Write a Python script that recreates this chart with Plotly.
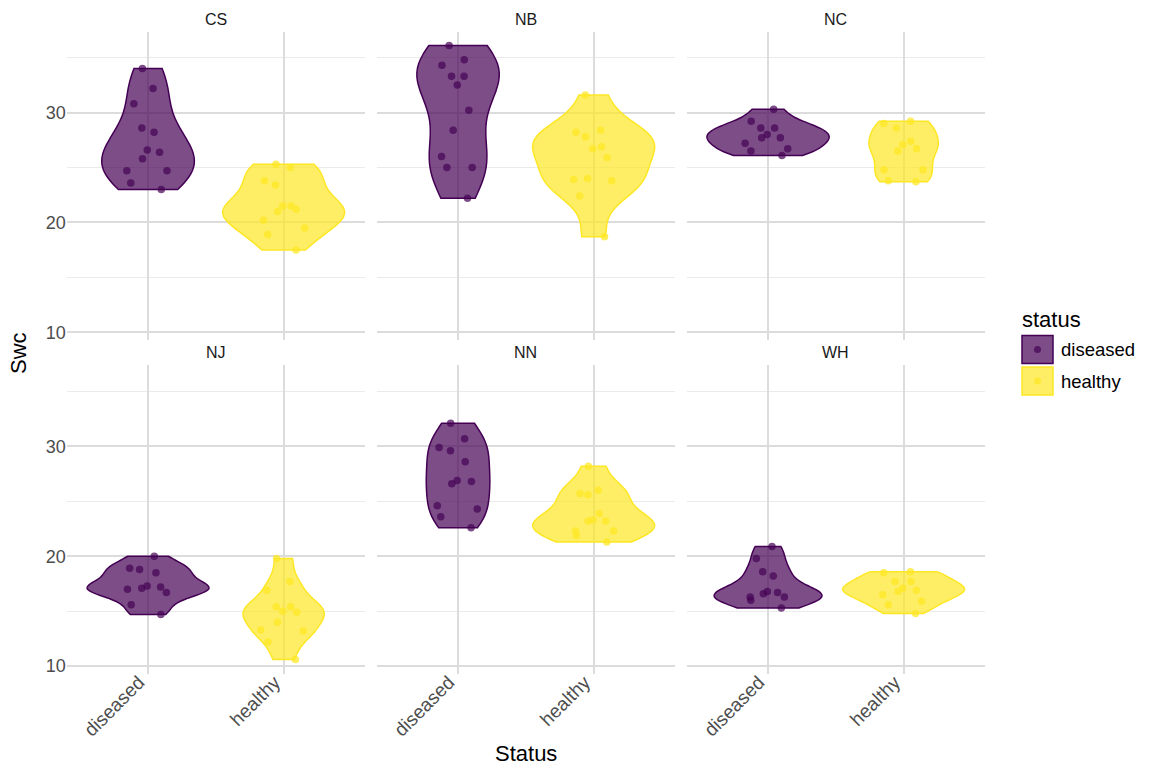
import numpy as np
import plotly.graph_objects as go

W, H = 1150, 770

sites = ["CS", "NB", "NC", "NJ", "NN", "WH"]
statuses = ["diseased", "healthy"]

cs_d = [34.0, 32.2, 30.8, 28.2, 28.6, 26.4, 25.8, 26.6, 24.7, 24.7, 23.6, 23.0]
cs_h = [25.3, 25.0, 23.8, 23.4, 21.5, 21.5, 21.2, 21.0, 20.2, 19.5, 18.9, 17.5]
nb_d = [36.1, 34.8, 34.3, 33.3, 33.3, 32.5, 30.2, 28.4, 26.0, 25.0, 25.0, 22.2]
nb_h = [31.6, 28.4, 28.2, 27.8, 26.9, 26.7, 25.9, 23.8, 24.0, 23.9, 22.4, 18.7]
nc_d = [30.3, 29.2, 28.6, 28.6, 28.0, 27.7, 27.7, 27.2, 26.7, 26.5, 26.1]
nc_h = [28.6, 29.0, 29.2, 27.4, 27.1, 26.5, 26.7, 24.8, 24.8, 23.8, 23.7]
nj_d = [20.0, 18.8, 18.5, 18.9, 17.3, 17.0, 16.7, 17.1, 17.2, 15.6, 14.7]
nj_h = [19.8, 17.7, 16.9, 15.4, 15.4, 14.9, 15.0, 14.0, 13.2, 13.3, 12.2, 10.6]
nn_d = [32.1, 30.7, 29.6, 29.9, 28.6, 26.6, 26.8, 26.9, 24.6, 24.3, 23.6, 22.6]
nn_h = [28.2, 25.6, 26.0, 25.7, 23.9, 23.3, 23.2, 23.2, 22.3, 21.9, 22.3, 21.3]
wh_d = [20.9, 19.8, 18.2, 18.6, 16.7, 16.6, 16.3, 16.3, 16.0, 16.8, 15.3]
wh_h = [18.6, 18.5, 17.7, 17.7, 17.1, 16.5, 16.8, 16.9, 15.9, 15.6, 14.8]

swc = {
    "CS": [cs_d, cs_h], "NB": [nb_d, nb_h], "NC": [nc_d, nc_h],
    "NJ": [nj_d, nj_h], "NN": [nn_d, nn_h], "WH": [wh_d, wh_h],
}

y_ticks = [10, 20, 30]
y_minor = [15, 25, 35]

line_cols = ["#440154", "#FDE725"]
fill_cols = ["rgba(68,1,84,0.7)", "rgba(253,231,37,0.7)"]
pt_cols = ["rgba(68,1,84,0.7)", "rgba(253,231,37,0.75)"]

FONT = "Liberation Sans, Arial, sans-serif"


def nrd0(v):
    v = np.asarray(v, float)
    sd = np.std(v, ddof=1)
    q75, q25 = np.percentile(v, [75, 25])
    lo = min(sd, (q75 - q25) / 1.34)
    if lo <= 0:
        lo = sd if sd > 0 else 1.0
    return 0.9 * lo * len(v) ** -0.2


def max_density(v, bw):
    v = np.asarray(v, float)
    grid = np.linspace(v.min(), v.max(), 512)
    u = (grid[:, None] - v[None, :]) / bw
    d = np.exp(-0.5 * u ** 2).sum(axis=1) / (len(v) * bw * np.sqrt(2 * np.pi))
    return d.max()


# panel geometry in pixels
px_left = [66.7, 376.7, 686.7]
px_w = 298.3
py_top = [31.5, 365.3]
py_h = 308.3

allv = np.concatenate([np.asarray(a, float) for s in sites for a in swc[s]])
ymin, ymax = allv.min(), allv.max()
pad = 0.05 * (ymax - ymin)
yrange = [ymin - pad, ymax + pad]

fig = go.Figure()
layout = {}
annotations = []
shapes = []

for i, site in enumerate(sites):
    r, c = divmod(i, 3)
    ax = "" if i == 0 else str(i + 1)
    groups = swc[site]
    bws = [nrd0(g) for g in groups]
    mds = [max_density(g, b) for g, b in zip(groups, bws)]
    mmax = max(mds)
    for k, (g, bw, md) in enumerate(zip(groups, bws, mds)):
        w = 0.9 * md / mmax
        fig.add_trace(go.Violin(
            x=[statuses[k]] * len(g), y=g,
            xaxis="x" + ax, yaxis="y" + ax,
            width=w, scalemode="width", spanmode="hard", bandwidth=bw,
            fillcolor=fill_cols[k], line=dict(color=line_cols[k], width=1.5),
            points="all", pointpos=0, jitter=min(1.0, 0.4 / w),
            marker=dict(color=pt_cols[k], size=7.5, line=dict(width=0)),
            showlegend=False, hoverinfo="y", name=statuses[k],
        ))
    x0 = px_left[c] / W
    x1 = (px_left[c] + px_w) / W
    y1 = 1 - py_top[r] / H
    y0 = 1 - (py_top[r] + py_h) / H
    layout["xaxis" + ax] = dict(
        domain=[x0, x1], anchor="y" + ax, type="category",
        categoryorder="array", categoryarray=statuses,
        range=[-0.6, 1.6], showgrid=True, gridcolor="#dcdcdc", gridwidth=1.5,
        zeroline=False, showline=False, ticks="", automargin=False,
        showticklabels=(r == 1), tickangle=-45,
        ticklabelshift=-9, ticklabelstandoff=-7,
        tickfont=dict(family=FONT, size=19, color="#4d4d4d"),
    )
    layout["yaxis" + ax] = dict(
        domain=[y0, y1], anchor="x" + ax, range=yrange,
        tickvals=y_ticks, showgrid=True, gridcolor="#dcdcdc", gridwidth=1.5,
        minor=dict(tickvals=y_minor, showgrid=True, gridcolor="#ebebeb", gridwidth=1),
        zeroline=False, showline=False, ticks="", automargin=False,
        showticklabels=(c == 0),
        tickfont=dict(family=FONT, size=18, color="#4d4d4d"),
    )
    annotations.append(dict(
        text=site, xref="paper", yref="paper",
        x=(x0 + x1) / 2, y=1 - (19.5 if r == 0 else 352.5) / H,
        xanchor="center", yanchor="middle", showarrow=False,
        font=dict(family=FONT, size=16, color="#1a1a1a"),
    ))

# axis titles
annotations.append(dict(text="Status", xref="paper", yref="paper",
                        x=(px_left[0] + px_left[2] + px_w) / 2 / W, y=1 - 753 / H,
                        xanchor="center", yanchor="middle", showarrow=False,
                        font=dict(family=FONT, size=22, color="black")))
annotations.append(dict(text="Swc", xref="paper", yref="paper",
                        x=18 / W, y=1 - 353 / H, textangle=-90,
                        xanchor="center", yanchor="middle", showarrow=False,
                        font=dict(family=FONT, size=22, color="black")))

# legend (manual)
annotations.append(dict(text="status", xref="paper", yref="paper",
                        x=1020 / W, y=1 - 319 / H, xanchor="left", yanchor="middle",
                        showarrow=False, font=dict(family=FONT, size=22, color="black")))
key_y = [335.5, 367.0]
for k, s in enumerate(statuses):
    ky0 = key_y[k]
    ky1 = ky0 + 28
    shapes.append(dict(type="rect", xref="paper", yref="paper",
                       x0=1022 / W, x1=1053 / W, y0=1 - ky1 / H, y1=1 - ky0 / H,
                       fillcolor=fill_cols[k], line=dict(color=line_cols[k], width=1.5)))
    cy = (ky0 + ky1) / 2
    shapes.append(dict(type="circle", xref="paper", yref="paper",
                       x0=(1037.5 - 3.5) / W, x1=(1037.5 + 3.5) / W,
                       y0=1 - (cy + 3.5) / H, y1=1 - (cy - 3.5) / H,
                       fillcolor=pt_cols[k], line=dict(width=0)))
    annotations.append(dict(text=s, xref="paper", yref="paper",
                            x=1059 / W, y=1 - cy / H, xanchor="left", yanchor="middle",
                            showarrow=False, font=dict(family=FONT, size=18.5, color="black")))

fig.update_layout(
    width=W, height=H, margin=dict(l=0, r=0, t=0, b=0),
    paper_bgcolor="white", plot_bgcolor="white",
    violinmode="overlay", showlegend=False,
    annotations=annotations, shapes=shapes,
    font=dict(family=FONT),
    **layout,
)

fig.write_html("out.html")
